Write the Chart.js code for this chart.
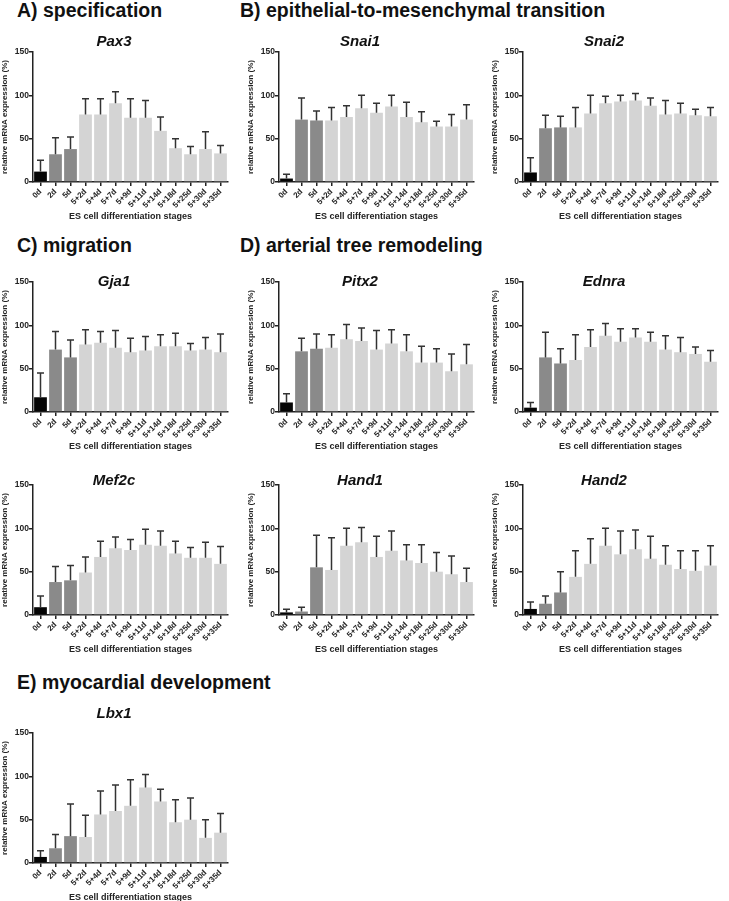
<!DOCTYPE html>
<html>
<head>
<meta charset="utf-8">
<script src="https://cdn.jsdelivr.net/npm/chart.js@4.4.1/dist/chart.umd.min.js"></script>
<style>
    body {
        margin: 0;
        background: #fff;
        width: 729px;
        height: 901px;
        overflow: hidden;
        position: relative;
        font-family: "Liberation Sans", Arial, sans-serif;
    }
    .head {
        position: absolute;
        font-weight: bold;
        font-size: 19.5px;
        line-height: 20px;
        color: #111;
        white-space: nowrap;
    }
    canvas {
        position: absolute;
    }
</style>
</head>
<body>
<div class="head" style="left:17px; top:0px;">A) specification</div>
<div class="head" style="left:240px; top:0px;">B) epithelial-to-mesenchymal transition</div>
<div class="head" style="left:17px; top:235px;">C) migration</div>
<div class="head" style="left:240px; top:235px;">D) arterial tree remodeling</div>
<div class="head" style="left:17px; top:672px;">E) myocardial development</div>

<canvas id="pax3" width="240" height="212" style="left:0px; top:12px;"></canvas>
<canvas id="snai1" width="240" height="212" style="left:246px; top:12px;"></canvas>
<canvas id="snai2" width="240" height="212" style="left:490px; top:12px;"></canvas>
<canvas id="gja1" width="240" height="212" style="left:0px; top:242px;"></canvas>
<canvas id="pitx2" width="240" height="212" style="left:246px; top:242px;"></canvas>
<canvas id="ednra" width="240" height="212" style="left:490px; top:242px;"></canvas>
<canvas id="mef2c" width="240" height="212" style="left:0px; top:445px;"></canvas>
<canvas id="hand1" width="240" height="212" style="left:246px; top:445px;"></canvas>
<canvas id="hand2" width="240" height="212" style="left:490px; top:445px;"></canvas>
<canvas id="lbx1" width="240" height="212" style="left:0px; top:693px;"></canvas>

<script>
// categories (ES cell differentiation stages)
const stages = ['0d', '2d', '5d', '5+2d', '5+4d', '5+7d', '5+9d', '5+11d', '5+14d', '5+18d', '5+25d', '5+30d', '5+35d'];
const yTicks = [0, 50, 100, 150];

// mean and SD (relative mRNA expression, %)
const pax3Mean = [12, 32, 38, 78, 78, 91, 74, 74, 59, 39, 32, 38, 33];
const pax3Sd = [13, 19, 14, 18, 18, 13, 22, 20, 16, 11, 9, 20, 9];

const snai1Mean = [4, 72, 71, 71, 75, 85, 80, 87, 75, 69, 64, 64, 72];
const snai1Sd = [5, 25, 11, 15, 13, 15, 11, 13, 17, 12, 6, 14, 17];

const snai2Mean = [11, 62, 63, 63, 79, 91, 93, 94, 88, 78, 79, 77, 76];
const snai2Sd = [17, 15, 13, 23, 21, 8, 7, 8, 9, 16, 12, 7, 10];

const gja1Mean = [17, 72, 63, 78, 80, 74, 69, 71, 76, 76, 71, 72, 69];
const gja1Sd = [28, 21, 20, 17, 13, 20, 16, 16, 13, 15, 8, 14, 21];

const pitx2Mean = [11, 70, 73, 74, 84, 82, 72, 79, 70, 57, 57, 47, 55];
const pitx2Sd = [10, 15, 17, 15, 17, 15, 22, 16, 19, 19, 16, 20, 23];

const ednraMean = [5, 63, 56, 60, 75, 88, 81, 86, 81, 72, 69, 67, 58];
const ednraSd = [6, 29, 17, 29, 20, 14, 15, 10, 11, 16, 17, 8, 13];

const mef2cMean = [9, 38, 40, 49, 67, 77, 75, 81, 80, 71, 66, 66, 59];
const mef2cSd = [13, 18, 17, 18, 18, 13, 12, 18, 17, 14, 12, 18, 20];

const hand1Mean = [3, 4, 55, 52, 80, 84, 67, 74, 63, 60, 50, 47, 38];
const hand1Sd = [3.5, 5, 37, 37, 20, 17, 24, 23, 18, 21, 22, 21, 16];

const hand2Mean = [7, 13, 26, 44, 59, 80, 70, 76, 65, 58, 53, 51, 57];
const hand2Sd = [8, 9, 24, 30, 29, 20, 27, 22, 26, 22, 21, 23, 23];

const lbx1Mean = [7, 17, 31, 30, 56, 60, 66, 87, 71, 47, 50, 29, 35];
const lbx1Sd = [7, 16, 37, 25, 27, 30, 30, 15, 14, 26, 25, 21, 22];

// bar fill: 0d black, 2d/5d dark grey, rest light grey
const barColors = stages.map(function (s, i) {
    if (i === 0) return '#050505';
    if (i < 3) return '#8a8a8a';
    return '#d4d4d4';
});

Chart.defaults.font.family = '"Liberation Sans", Arial, sans-serif';
Chart.defaults.color = '#222';

// upper SD whiskers, drawn from the y scale
const errorBars = {
    id: 'errorBars',
    afterDatasetsDraw(chart) {
        const ctx = chart.ctx;
        const ds = chart.data.datasets[0];
        const meta = chart.getDatasetMeta(0);
        const y = chart.scales.y;
        ctx.save();
        ctx.strokeStyle = '#333';
        ctx.lineWidth = 1.5;
        meta.data.forEach(function (bar, i) {
            const top = y.getPixelForValue(ds.data[i] + ds.sd[i]);
            ctx.beginPath();
            ctx.moveTo(bar.x, bar.y);
            ctx.lineTo(bar.x, top);
            ctx.moveTo(bar.x - 3.5, top);
            ctx.lineTo(bar.x + 3.5, top);
            ctx.stroke();
        });
        ctx.restore();
    }
};

function makeChart(id, name, mean, sd, titlePad) {
    return new Chart(document.getElementById(id), {
        type: 'bar',
        data: {
            labels: stages,
            datasets: [{
                data: mean,
                sd: sd,
                backgroundColor: barColors,
                barPercentage: 0.85,
                categoryPercentage: 1
            }]
        },
        options: {
            responsive: false,
            animation: false,
            layout: {
                padding: { top: 18, right: 12, left: 0, bottom: 0 }
            },
            plugins: {
                legend: { display: false },
                tooltip: { enabled: false },
                title: {
                    display: true,
                    text: name,
                    color: '#111',
                    font: { size: 15, weight: 'bold', style: 'italic' },
                    padding: titlePad
                }
            },
            scales: {
                x: {
                    offset: true,
                    afterFit: function (s) { s.height = 42; },
                    grid: {
                        offset: false,
                        drawOnChartArea: false,
                        tickLength: 4,
                        color: '#222',
                        lineWidth: 1.5
                    },
                    border: { color: '#222', width: 1.5 },
                    ticks: {
                        autoSkip: false,
                        minRotation: 45,
                        maxRotation: 45,
                        padding: 1,
                        color: '#222',
                        font: { size: 8, weight: 'bold' }
                    },
                    title: {
                        display: true,
                        text: 'ES cell differentiation stages',
                        color: '#222',
                        font: { size: 9, weight: 'bold' },
                        padding: { top: 0, bottom: 2 }
                    }
                },
                y: {
                    min: 0,
                    max: 150,
                    afterFit: function (s) { s.width = 33; },
                    afterBuildTicks: function (s) {
                        s.ticks = yTicks.map(function (v) { return { value: v }; });
                    },
                    grid: {
                        drawOnChartArea: false,
                        tickLength: 4,
                        color: '#222',
                        lineWidth: 1.5
                    },
                    border: { color: '#222', width: 1.5 },
                    ticks: {
                        padding: 0,
                        color: '#222',
                        font: { size: 8.5, weight: 'bold' }
                    },
                    title: {
                        display: true,
                        text: 'relative mRNA expression (%)',
                        color: '#222',
                        font: { size: 8, weight: 'bold' },
                        padding: { top: 0, bottom: 2 }
                    }
                }
            }
        },
        plugins: [errorBars]
    });
}

const row1Pad = { top: 3, bottom: 1 };
const row2Pad = { top: 13, bottom: -9 };
const row3Pad = { top: 9, bottom: -5 };
const row4Pad = { top: -6, bottom: 10 };

makeChart('pax3', 'Pax3', pax3Mean, pax3Sd, row1Pad);
makeChart('snai1', 'Snai1', snai1Mean, snai1Sd, row1Pad);
makeChart('snai2', 'Snai2', snai2Mean, snai2Sd, row1Pad);
makeChart('gja1', 'Gja1', gja1Mean, gja1Sd, row2Pad);
makeChart('pitx2', 'Pitx2', pitx2Mean, pitx2Sd, row2Pad);
makeChart('ednra', 'Ednra', ednraMean, ednraSd, row2Pad);
makeChart('mef2c', 'Mef2c', mef2cMean, mef2cSd, row3Pad);
makeChart('hand1', 'Hand1', hand1Mean, hand1Sd, row3Pad);
makeChart('hand2', 'Hand2', hand2Mean, hand2Sd, row3Pad);
makeChart('lbx1', 'Lbx1', lbx1Mean, lbx1Sd, row4Pad);
</script>
</body>
</html>
